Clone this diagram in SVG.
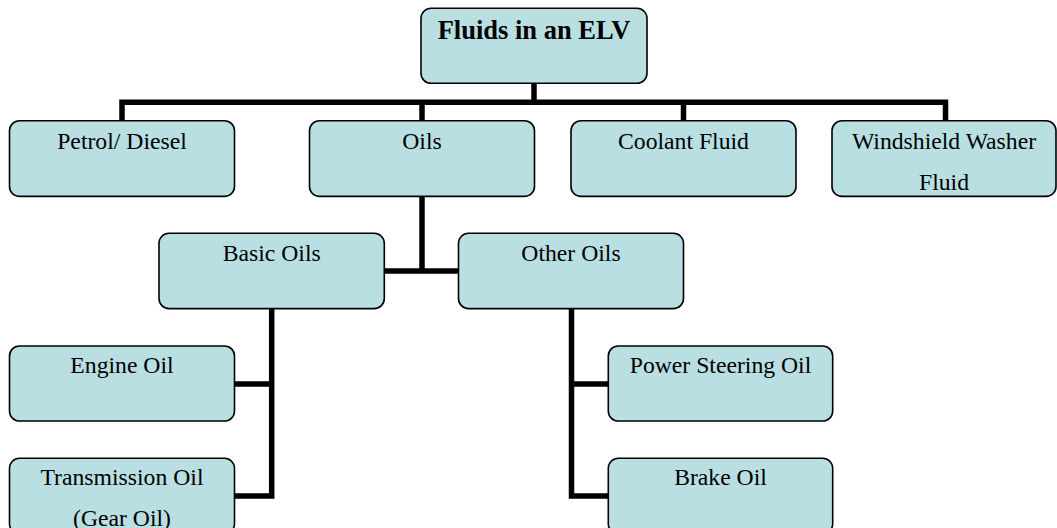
<svg xmlns="http://www.w3.org/2000/svg" width="1057" height="528" viewBox="0 0 1057 528">
<style>
.box{fill:#B9DFE3;stroke:#000;stroke-width:1.6}
.t{font-family:"Liberation Serif","Times New Roman",serif;font-size:23.7px;fill:#000;text-anchor:middle}
.tb{font-family:"Liberation Serif","Times New Roman",serif;font-size:26.5px;font-weight:bold;fill:#000;text-anchor:middle}
.c{fill:none;stroke:#000;stroke-width:5.5;stroke-linejoin:miter}
</style>
<rect width="1057" height="528" fill="#fff"/>
<g id="connectors">
<path class="c" d="M534,83 V102.3"/>
<path class="c" d="M122,122 V102.3 H945.5 V122"/>
<path class="c" d="M422,102.3 V122"/>
<path class="c" d="M683.5,102.3 V122"/>
<path class="c" d="M422,196 V271"/>
<path class="c" d="M384,271 H459"/>
<path class="c" d="M271.7,308 V496 H234"/>
<path class="c" d="M234,384 H271.7"/>
<path class="c" d="M571.5,308 V496 H609"/>
<path class="c" d="M571.5,384 H609"/>
</g>
<g id="root"><rect class="box" x="421" y="8.3" width="226" height="75" rx="10"/><text class="tb" x="534" y="38.5">Fluids in an ELV</text></g>
<g id="petrol"><rect class="box" x="9.5" y="120.7" width="225" height="75.7" rx="10"/><text class="t" x="122" y="148.5">Petrol/ Diesel</text></g>
<g id="oils"><rect class="box" x="309.5" y="120.7" width="225" height="75.7" rx="10"/><text class="t" x="422" y="148.5">Oils</text></g>
<g id="coolant"><rect class="box" x="571" y="120.7" width="225" height="75.7" rx="10"/><text class="t" x="683.5" y="148.5">Coolant Fluid</text></g>
<g id="windshield"><rect class="box" x="832" y="120.7" width="224" height="75.7" rx="10"/><text class="t" x="944" y="148.5">Windshield Washer</text><text class="t" x="944" y="189.5">Fluid</text></g>
<g id="basic"><rect class="box" x="159" y="233.3" width="225.3" height="75.3" rx="10"/><text class="t" x="271.7" y="260.5">Basic Oils</text></g>
<g id="other"><rect class="box" x="458.5" y="233.3" width="225" height="75.3" rx="10"/><text class="t" x="571" y="260.5">Other Oils</text></g>
<g id="engine"><rect class="box" x="9.5" y="346" width="225" height="75" rx="10"/><text class="t" x="122" y="373">Engine Oil</text></g>
<g id="transmission"><rect class="box" x="9.5" y="458.3" width="225" height="75.5" rx="10"/><text class="t" x="122" y="485">Transmission Oil</text><text class="t" x="122" y="525.5">(Gear Oil)</text></g>
<g id="power"><rect class="box" x="608.3" y="346" width="224.4" height="75" rx="10"/><text class="t" x="720.5" y="373">Power Steering Oil</text></g>
<g id="brake"><rect class="box" x="608.3" y="458.3" width="224.4" height="75.5" rx="10"/><text class="t" x="720.5" y="485">Brake Oil</text></g>
</svg>
